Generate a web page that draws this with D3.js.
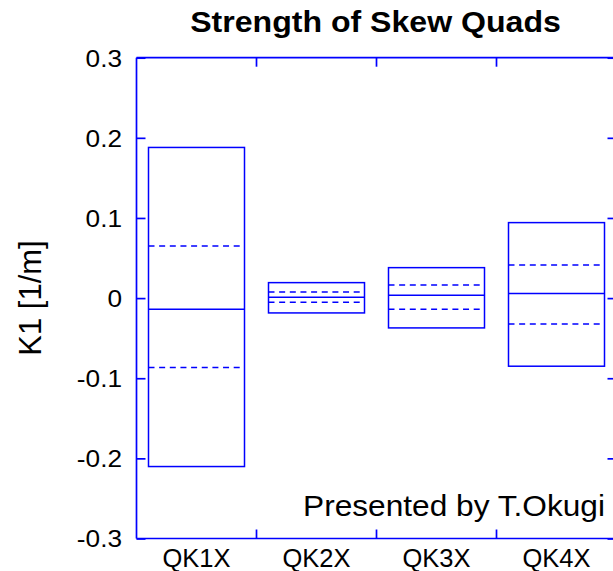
<!DOCTYPE html>
<html>
<head>
<meta charset="utf-8">
<script src="https://cdn.jsdelivr.net/npm/d3@7"></script>
<style>
  html, body { margin: 0; padding: 0; background: #fff; }
  svg { display: block; }
  text { font-family: Arial, "Liberation Sans", Helvetica, sans-serif; fill: #000; }
</style>
</head>
<body>
<svg id="chart" width="613" height="571"></svg>
<script>
// Skew quad strengths per magnet: box spans min..max,
// solid line = mean, dashed lines = mean ± sigma
const magnets = ["QK1X", "QK2X", "QK3X", "QK4X"];
const kMax   = [0.188, 0.0193, 0.038, 0.0942];
const kUpper = [0.0651, 0.0077, 0.0165, 0.0414];
const kMean  = [-0.0139, 0.0011, 0.0036, 0.0056];
const kLower = [-0.0867, -0.0051, -0.0138, -0.0322];
const kMin   = [-0.2102, -0.0185, -0.0372, -0.085];
const yTicks = [-0.3, -0.2, -0.1, 0, 0.1, 0.2, 0.3];
const yTickLabels = ["-0.3", "-0.2", "-0.1", "0", "0.1", "0.2", "0.3"];

const blue = "#0000ff";
const svg = d3.select("#chart");

const plot = { left: 136.5, right: 616.5, top: 57.7, bottom: 538.5 };

const x = d3.scaleBand()
  .domain(magnets)
  .range([plot.left, plot.right])
  .paddingInner(0.2)
  .paddingOuter(0.1);
const xb = d3.scaleBand().domain(magnets).range([plot.left, plot.right]);

const y = d3.scaleLinear().domain([-0.3, 0.3]).range([plot.bottom, plot.top]);

const rows = magnets.map((m, i) => ({
  name: m, max: kMax[i], upper: kUpper[i], mean: kMean[i], lower: kLower[i], min: kMin[i]
}));

const lineW = 1.5;

// Boxes
const g = svg.append("g");
g.selectAll("rect.box").data(rows).join("rect")
  .attr("class", "box")
  .attr("x", d => x(d.name))
  .attr("y", d => y(d.max))
  .attr("width", x.bandwidth())
  .attr("height", d => y(d.min) - y(d.max))
  .attr("fill", "none")
  .attr("stroke", blue)
  .attr("stroke-width", lineW);

// Mean lines
g.selectAll("line.mean").data(rows).join("line")
  .attr("class", "mean")
  .attr("x1", d => x(d.name))
  .attr("x2", d => x(d.name) + x.bandwidth())
  .attr("y1", d => y(d.mean))
  .attr("y2", d => y(d.mean))
  .attr("stroke", blue)
  .attr("stroke-width", lineW);

// Sigma lines (dashed)
const sig = rows.flatMap(d => [{ name: d.name, v: d.upper }, { name: d.name, v: d.lower }]);
g.selectAll("line.sigma").data(sig).join("line")
  .attr("class", "sigma")
  .attr("x1", d => x(d.name))
  .attr("x2", d => x(d.name) + x.bandwidth() - 1)
  .attr("y1", d => y(d.v))
  .attr("y2", d => y(d.v))
  .attr("stroke", blue)
  .attr("stroke-width", lineW)
  .attr("stroke-dasharray", "6,4.65");

// Axes frame
const axisW = 1.7;
const tickLen = 9;
const yLabelScale = 1.07;
const yLabelGap = 14.5;
const leftAxis = d3.axisLeft(y).tickValues(yTicks).tickSize(-tickLen)
  .tickFormat((d, i) => yTickLabels[i]).tickPadding(yLabelGap);
const rightAxis = d3.axisRight(y).tickValues(yTicks).tickSize(-tickLen).tickFormat("");

const gl = svg.append("g").attr("transform", `translate(${plot.left},0)`).call(leftAxis);
const gr = svg.append("g").attr("transform", `translate(${plot.right},0)`).call(rightAxis);

// Category labels below, category boundary ticks on top and bottom edges
const bounds = magnets.slice(1).map(m => xb(m));
const bottomAxis = d3.axisBottom(x).tickSize(0).tickPadding(10);
const gb = svg.append("g").attr("transform", `translate(0,${plot.bottom})`).call(bottomAxis);
const gt = svg.append("g").attr("transform", `translate(0,${plot.top})`)
  .call(d3.axisTop(x).tickSize(0).tickFormat(""));

[gl, gr, gb, gt].forEach(a => {
  a.select(".domain").attr("stroke", blue).attr("stroke-width", axisW);
  a.selectAll(".tick line").attr("stroke", blue).attr("stroke-width", axisW);
  a.selectAll(".tick text").attr("font-family", "Arial, 'Liberation Sans', sans-serif").attr("fill", "#000");
});
gl.select(".domain").attr("d", `M0,${plot.top}V${plot.bottom}`);
gr.select(".domain").attr("d", `M0,${plot.top}V${plot.bottom}`);
gb.select(".domain").attr("d", `M${plot.left},0H${plot.right}`);
gt.select(".domain").attr("d", `M${plot.left},0H${plot.right}`);

gl.selectAll(".tick text")
  .attr("font-size", 24.5)
  .attr("dy", "0.34em")
  .attr("x", -yLabelGap / yLabelScale)
  .attr("transform", `scale(${yLabelScale},1)`);
gb.selectAll(".tick text").attr("font-size", 25.5).attr("dy", "0.71em");

svg.append("g").selectAll("line").data(bounds).join("line")
  .attr("x1", d => d).attr("x2", d => d)
  .attr("y1", plot.bottom).attr("y2", plot.bottom - tickLen)
  .attr("stroke", blue).attr("stroke-width", axisW);
svg.append("g").selectAll("line").data(bounds).join("line")
  .attr("x1", d => d).attr("x2", d => d)
  .attr("y1", plot.top).attr("y2", plot.top + tickLen)
  .attr("stroke", blue).attr("stroke-width", axisW);

// Title
svg.append("text")
  .attr("transform", `translate(${(plot.left + plot.right) / 2 - 1},32) scale(1.07,1)`)
  .attr("text-anchor", "middle")
  .attr("font-size", 30)
  .attr("font-weight", "bold")
  .text("Strength of Skew Quads");

// Y label
svg.append("text")
  .attr("transform", `translate(41,298) rotate(-90)`)
  .attr("text-anchor", "middle")
  .attr("font-size", 31)
  .text("K1 [1/m]");

// Credit
svg.append("text")
  .attr("transform", "translate(605,516) scale(1.055,1)")
  .attr("text-anchor", "end")
  .attr("font-size", 30)
  .text("Presented by T.Okugi");
</script>
</body>
</html>
